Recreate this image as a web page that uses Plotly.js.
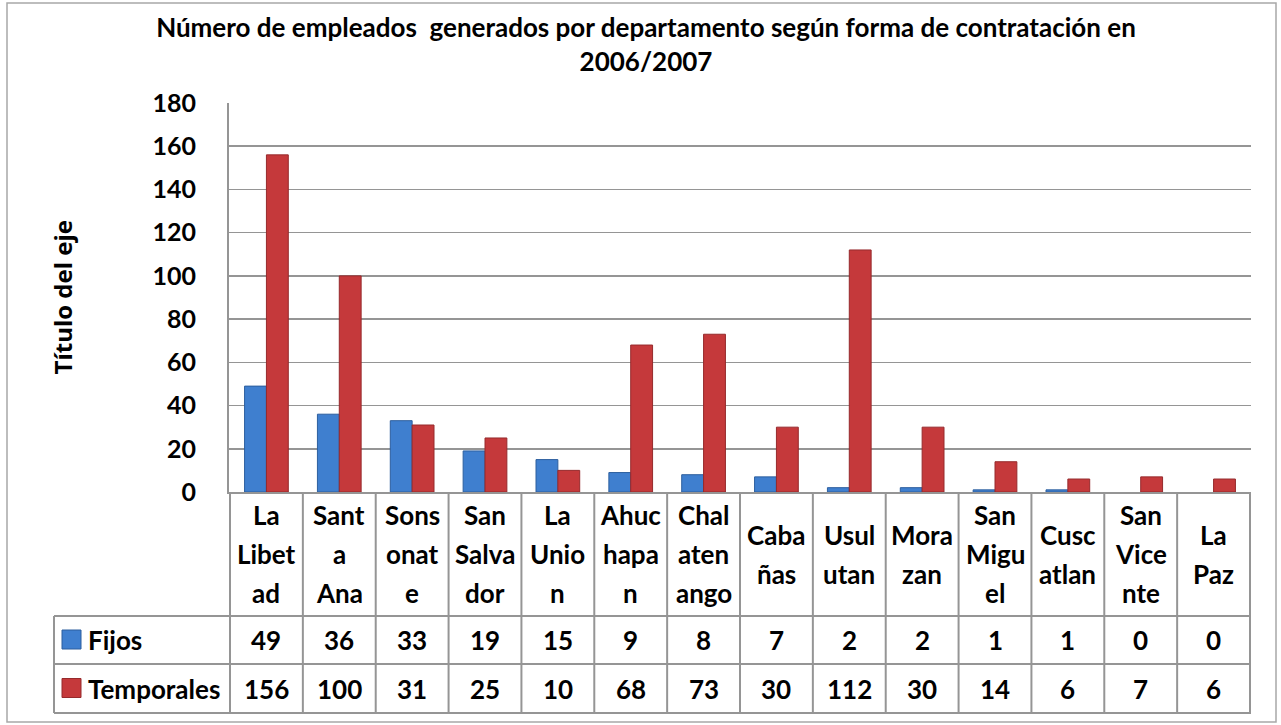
<!DOCTYPE html>
<html>
<head>
<meta charset="utf-8">
<script src="https://cdn.plot.ly/plotly-3.0.1.min.js"></script>
<style>
  html, body { margin: 0; padding: 0; background: #ffffff; }
  #chart { width: 1281px; height: 725px; }
</style>
</head>
<body>
<div id="chart"></div>
<script>
// ---- Data ----
const categories = ["La Libetad","Santa Ana","Sonsonate","San Salvador","La Union","Ahuchapan","Chalatenango","Cabañas","Usulutan","Morazan","San Miguel","Cuscatlan","San Vicente","La Paz"];
const categoryLabelLines = [["La","Libet","ad"],["Sant","a","Ana"],["Sons","onat","e"],["San","Salva","dor"],["La","Unio","n"],["Ahuc","hapa","n"],["Chal","aten","ango"],["Caba","ñas"],["Usul","utan"],["Mora","zan"],["San","Migu","el"],["Cusc","atlan"],["San","Vice","nte"],["La","Paz"]];
const fijos = [49,36,33,19,15,9,8,7,2,2,1,1,0,0];
const temporales = [156,100,31,25,10,68,73,30,112,30,14,6,7,6];
const seriesNames = ["Fijos","Temporales"];
const titleText = "Número de empleados  generados por departamento según forma de contratación en<br>2006/2007";
const yTitleText = "Título del eje";

// ---- Layout constants (pixels) ----
const W = 1281, H = 725;
const L = 229, R = 1251, T = 103, B = 492;
const plotW = R - L, plotH = B - T;
const px = X => (X - L) / plotW;       // pixel x -> paper x
const py = Y => (B - Y) / plotH;       // pixel y -> paper y
const gridCol = "#959595";
const font = "Lato, 'Open Sans', sans-serif";
const blue = "#3f7fcf", blueEdge = "#2c5e9e";
const red = "#c5393b", redEdge = "#962a2c";

const headerTop = 492, headerBot = 616, row1Bot = 664, row2Bot = 713;
const tableLeft = 54;

const edgeWidths = vals => vals.map(v => (v > 0 ? 1 : 0));

const traces = [
  { type: "bar", name: seriesNames[0], x: categories, y: fijos,
    marker: { color: blue, line: { color: blueEdge, width: edgeWidths(fijos) } }, hoverinfo: "x+y" },
  { type: "bar", name: seriesNames[1], x: categories, y: temporales,
    marker: { color: red, line: { color: redEdge, width: edgeWidths(temporales) } }, hoverinfo: "x+y" }
];

const shapes = [];
const annotations = [];

// outer frame
shapes.push({ type: "rect", xref: "paper", yref: "paper",
  x0: px(7), x1: px(1276), y0: py(722), y1: py(3),
  line: { color: "#a8a8a8", width: 1.5 }, fillcolor: "rgba(0,0,0,0)", layer: "below" });

// table vertical lines at category boundaries
for (let i = 0; i <= categories.length; i++) {
  shapes.push({ type: "line", xref: "x", yref: "paper",
    x0: i - 0.5, x1: i - 0.5, y0: py(row2Bot), y1: py(headerTop),
    line: { color: gridCol, width: 2 } });
}
// left legend column edge
shapes.push({ type: "line", xref: "paper", yref: "paper",
  x0: px(tableLeft), x1: px(tableLeft), y0: py(row2Bot), y1: py(headerBot),
  line: { color: gridCol, width: 2 } });
// horizontal table lines
[headerBot, row1Bot, row2Bot].forEach(Y => {
  shapes.push({ type: "line", xref: "paper", yref: "paper",
    x0: px(tableLeft), x1: 1, y0: py(Y), y1: py(Y),
    line: { color: gridCol, width: 2 } });
});

const cellFont = { family: font, size: 26, weight: 700, color: "#000" };

// header labels (category names, wrapped)
const lineGap = 39, headerMid = (headerTop + headerBot) / 2;
categories.forEach((c, i) => {
  const lines = categoryLabelLines[i];
  lines.forEach((t, k) => {
    const Y = headerMid + (k - (lines.length - 1) / 2) * lineGap;
    annotations.push({ xref: "x", yref: "paper", x: i, y: py(Y),
      text: t, showarrow: false, xanchor: "center", yanchor: "middle", font: cellFont });
  });
});

// value rows
const rows = [fijos, temporales];
const rowMid = [(headerBot + row1Bot) / 2, (row1Bot + row2Bot) / 2];
rows.forEach((vals, r) => {
  vals.forEach((v, i) => {
    annotations.push({ xref: "x", yref: "paper", x: i, y: py(rowMid[r]),
      text: String(v), showarrow: false, xanchor: "center", yanchor: "middle", font: cellFont });
  });
  // legend key + label
  const col = r === 0 ? blue : red, edge = r === 0 ? blueEdge : redEdge;
  shapes.push({ type: "rect", xref: "paper", yref: "paper",
    x0: px(62), x1: px(81), y0: py(rowMid[r] + 9), y1: py(rowMid[r] - 10),
    fillcolor: col, line: { color: edge, width: 1 } });
  annotations.push({ xref: "paper", yref: "paper", x: px(86), y: py(rowMid[r]),
    text: seriesNames[r], showarrow: false, xanchor: "left", yanchor: "middle", font: cellFont });
});

// y-axis title
annotations.push({ xref: "paper", yref: "paper", x: px(62), y: 0.5,
  text: yTitleText, textangle: -90, showarrow: false, xanchor: "center", yanchor: "middle",
  font: { family: "'Open Sans', sans-serif", size: 24, weight: 700, color: "#000" } });

const layout = {
  width: W, height: H,
  margin: { l: L, r: W - R, t: T, b: H - B, pad: 0 },
  paper_bgcolor: "#ffffff", plot_bgcolor: "#ffffff",
  showlegend: false,
  barmode: "group", bargap: 0.4, bargroupgap: 0,
  title: { text: titleText, xref: "container", yref: "container",
    x: 646 / W, y: 1 - 37 / H, xanchor: "center", yanchor: "middle",
    font: { family: font, size: 26, weight: 700, color: "#000" } },
  xaxis: { type: "category", showticklabels: false, ticks: "", showgrid: false,
    showline: true, linecolor: gridCol, linewidth: 2, zeroline: false, fixedrange: true },
  yaxis: { range: [0, 180], dtick: 20, tick0: 0, showgrid: true, gridcolor: gridCol, gridwidth: 1.5,
    showline: true, linecolor: gridCol, linewidth: 2, zeroline: false, ticks: "",
    ticklabelstandoff: 26,
    tickfont: { family: font, size: 25, weight: 700, color: "#000" }, fixedrange: true },
  shapes: shapes,
  annotations: annotations
};

Plotly.newPlot("chart", traces, layout, { displayModeBar: false, staticPlot: true });
</script>
</body>
</html>
